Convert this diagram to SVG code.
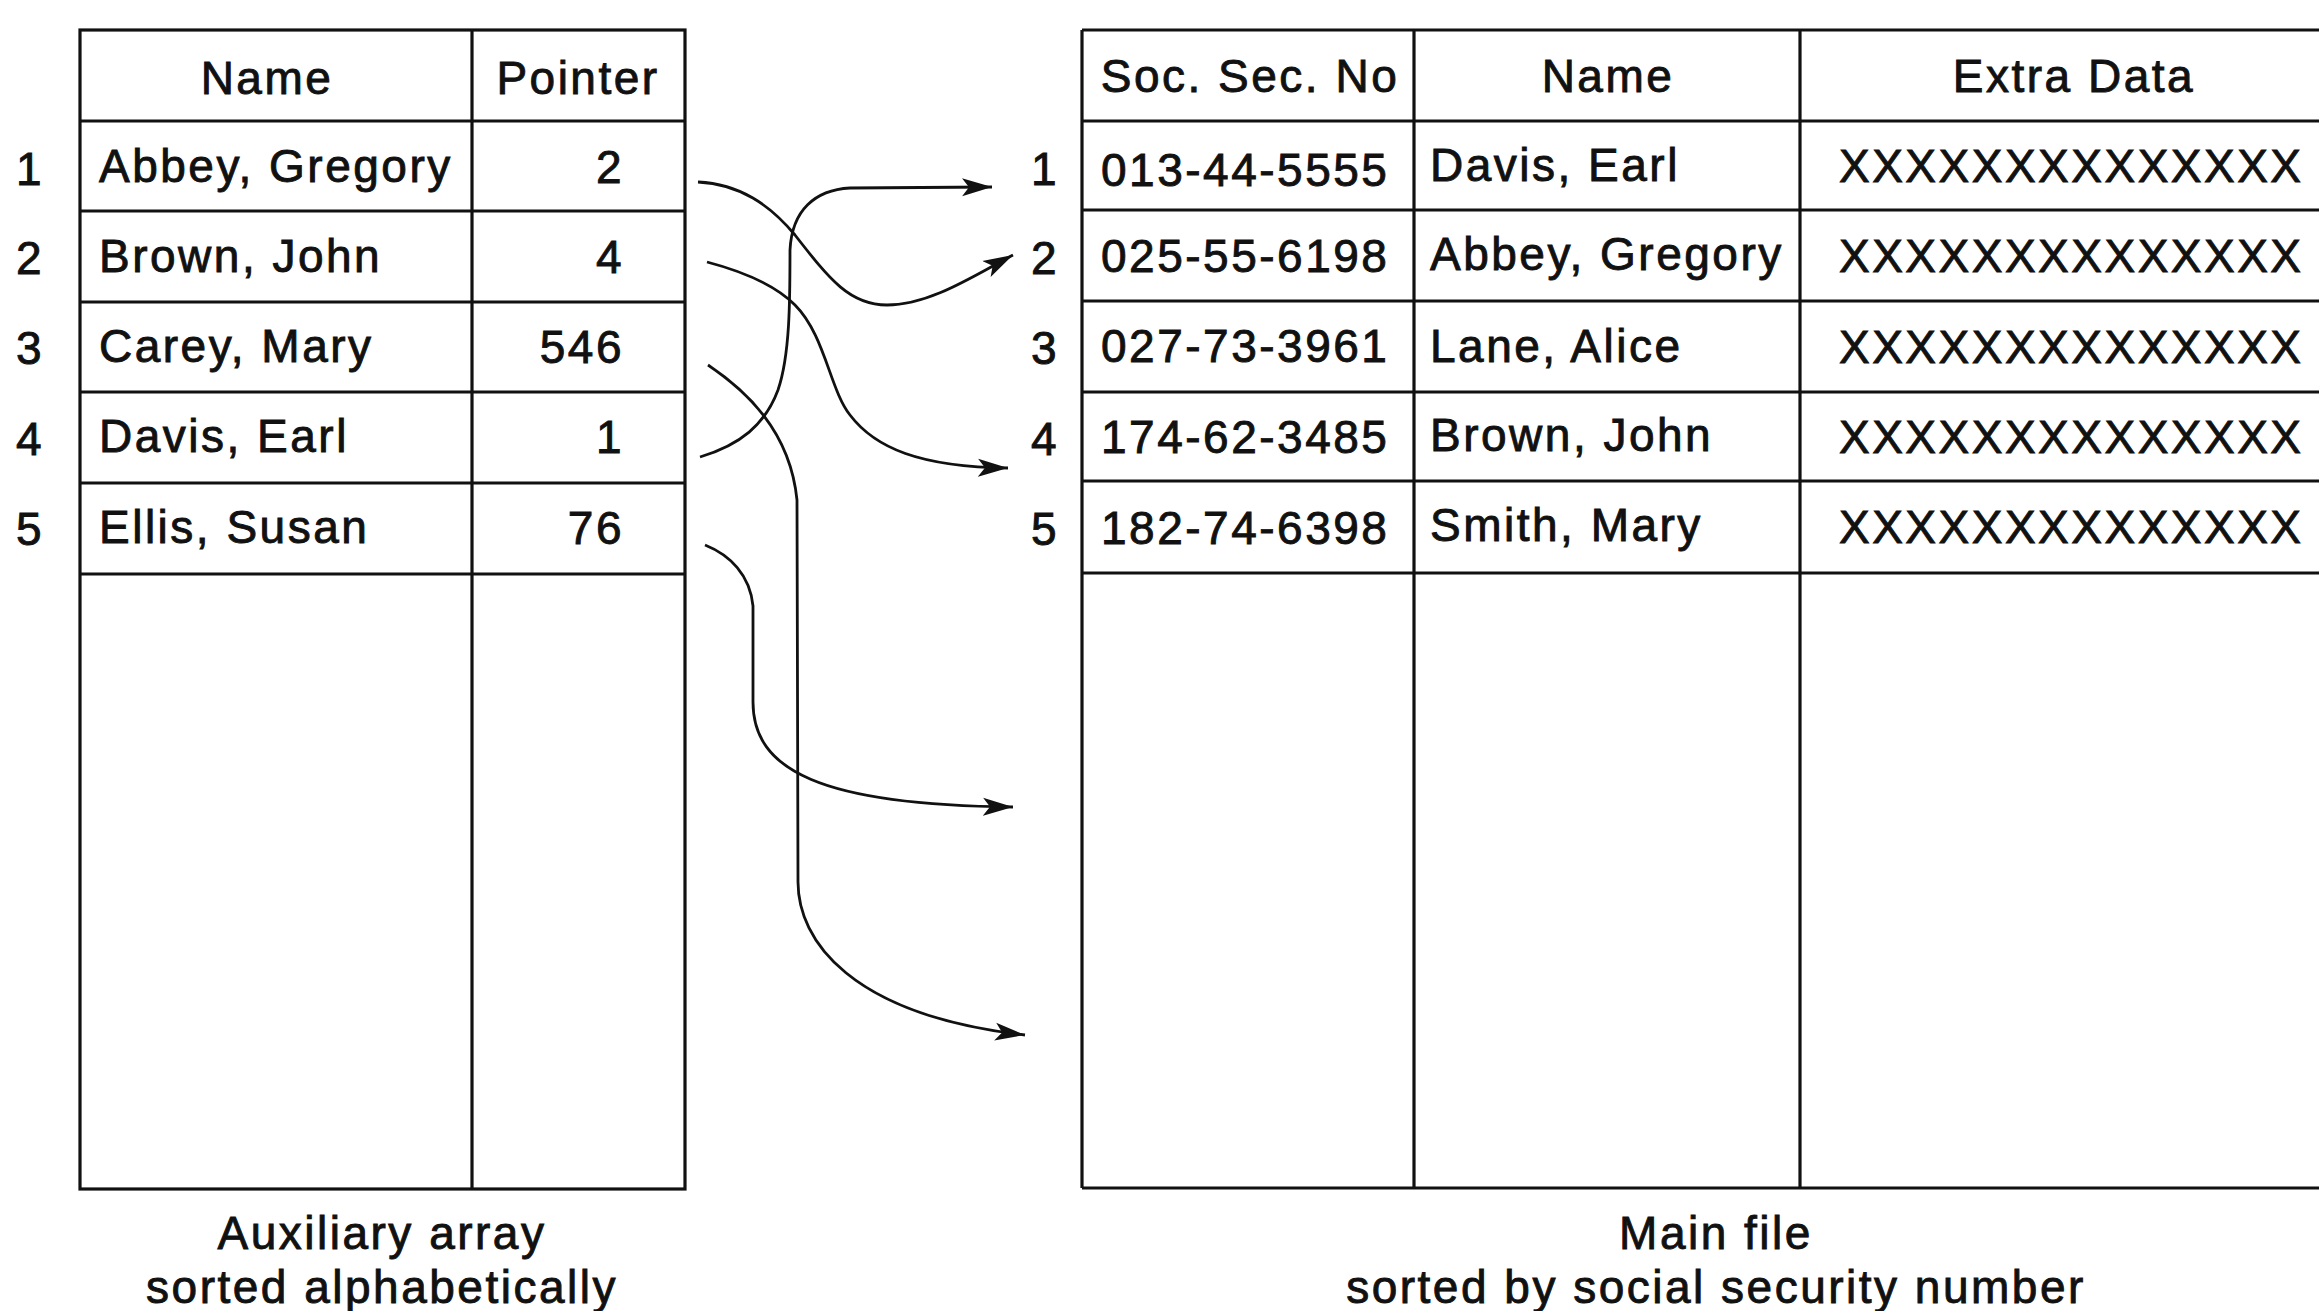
<svg xmlns="http://www.w3.org/2000/svg" width="2319" height="1311" viewBox="0 0 2319 1311">
<style>
text{font-family:"Liberation Sans",Arial,Helvetica,sans-serif;font-size:46px;letter-spacing:2.5px;fill:#111;stroke:#111;stroke-width:0.9px;}
.m{text-anchor:middle;}
.e{text-anchor:end;}
.grid{stroke:#111;stroke-width:3.2;fill:none;}
.conn{stroke:#111;stroke-width:2.8;fill:none;marker-end:url(#arr);}
</style>
<defs>
<marker id="arr" markerUnits="userSpaceOnUse" markerWidth="34" markerHeight="22" refX="30" refY="10" orient="auto">
<path d="M0,1 L30,10 L0,19 L7,10 z" fill="#111"/>
</marker>
</defs>
<rect width="2319" height="1311" fill="#fff"/>

<g id="aux-array">
<rect class="grid" x="80" y="30" width="605" height="1159"/>
<line class="grid" x1="472" y1="30" x2="472" y2="1189"/>
<line class="grid" x1="80" y1="121" x2="685" y2="121"/>
<line class="grid" x1="80" y1="211" x2="685" y2="211"/>
<line class="grid" x1="80" y1="302" x2="685" y2="302"/>
<line class="grid" x1="80" y1="392" x2="685" y2="392"/>
<line class="grid" x1="80" y1="483" x2="685" y2="483"/>
<line class="grid" x1="80" y1="574" x2="685" y2="574"/>
<text class="m" x="267" y="94">Name</text>
<text class="m" x="578" y="94">Pointer</text>
<text class="m" x="30" y="185">1</text>
<text class="m" x="30" y="274">2</text>
<text class="m" x="30" y="364">3</text>
<text class="m" x="30" y="455">4</text>
<text class="m" x="30" y="545">5</text>
<text x="99" y="182">Abbey, Gregory</text>
<text x="99" y="272">Brown, John</text>
<text x="99" y="362">Carey, Mary</text>
<text x="99" y="452">Davis, Earl</text>
<text x="99" y="543">Ellis, Susan</text>
<text class="e" x="624" y="183">2</text>
<text class="e" x="624" y="273">4</text>
<text class="e" x="624" y="363">546</text>
<text class="e" x="624" y="453">1</text>
<text class="e" x="624" y="544">76</text>
<text class="m" x="382" y="1249">Auxiliary array</text>
<text class="m" x="382" y="1303">sorted alphabetically</text>
</g>

<g id="main-file">
<line class="grid" x1="1082" y1="30" x2="2319" y2="30"/>
<line class="grid" x1="1082" y1="1188" x2="2319" y2="1188"/>
<line class="grid" x1="1082" y1="30" x2="1082" y2="1188"/>
<line class="grid" x1="1414" y1="30" x2="1414" y2="1188"/>
<line class="grid" x1="1800" y1="30" x2="1800" y2="1188"/>
<line class="grid" x1="1082" y1="121" x2="2319" y2="121"/>
<line class="grid" x1="1082" y1="210" x2="2319" y2="210"/>
<line class="grid" x1="1082" y1="301" x2="2319" y2="301"/>
<line class="grid" x1="1082" y1="392" x2="2319" y2="392"/>
<line class="grid" x1="1082" y1="481" x2="2319" y2="481"/>
<line class="grid" x1="1082" y1="573" x2="2319" y2="573"/>
<text class="m" x="1250" y="92">Soc. Sec. No</text>
<text class="m" x="1608" y="92">Name</text>
<text class="m" x="2074" y="92">Extra Data</text>
<text class="m" x="1045" y="185">1</text>
<text class="m" x="1045" y="274">2</text>
<text class="m" x="1045" y="364">3</text>
<text class="m" x="1045" y="455">4</text>
<text class="m" x="1045" y="545">5</text>
<text x="1101" y="186">013-44-5555</text>
<text x="1101" y="272">025-55-6198</text>
<text x="1101" y="362">027-73-3961</text>
<text x="1101" y="453">174-62-3485</text>
<text x="1101" y="544">182-74-6398</text>
<text x="1430" y="181">Davis, Earl</text>
<text x="1430" y="270">Abbey, Gregory</text>
<text x="1430" y="362">Lane, Alice</text>
<text x="1430" y="451">Brown, John</text>
<text x="1430" y="541">Smith, Mary</text>
<text x="1839" y="182">XXXXXXXXXXXXXX</text>
<text x="1839" y="272">XXXXXXXXXXXXXX</text>
<text x="1839" y="363">XXXXXXXXXXXXXX</text>
<text x="1839" y="453">XXXXXXXXXXXXXX</text>
<text x="1839" y="543">XXXXXXXXXXXXXX</text>
<text class="m" x="1716" y="1249">Main file</text>
<text class="m" x="1716" y="1303">sorted by social security number</text>
</g>

<g id="connectors">
<path class="conn" d="M698,182 C740,184 770,205 795,235 C830,280 850,305 887,305 C930,305 975,275 1013,255"/>
<path class="conn" d="M707,262 C745,272 775,285 795,305 C825,335 830,390 850,415 C875,448 920,467 1008,468"/>
<path class="conn" d="M708,365 C745,390 790,430 797,500 L798,882 C798,940 850,1015 1025,1035"/>
<path class="conn" d="M700,457 C740,445 765,425 778,390 C790,355 790,300 790,250 C792,210 815,190 850,188 L992,187"/>
<path class="conn" d="M705,545 C730,555 750,575 753,606 L753,702 C753,770 820,805 1013,807"/>
</g>
</svg>
